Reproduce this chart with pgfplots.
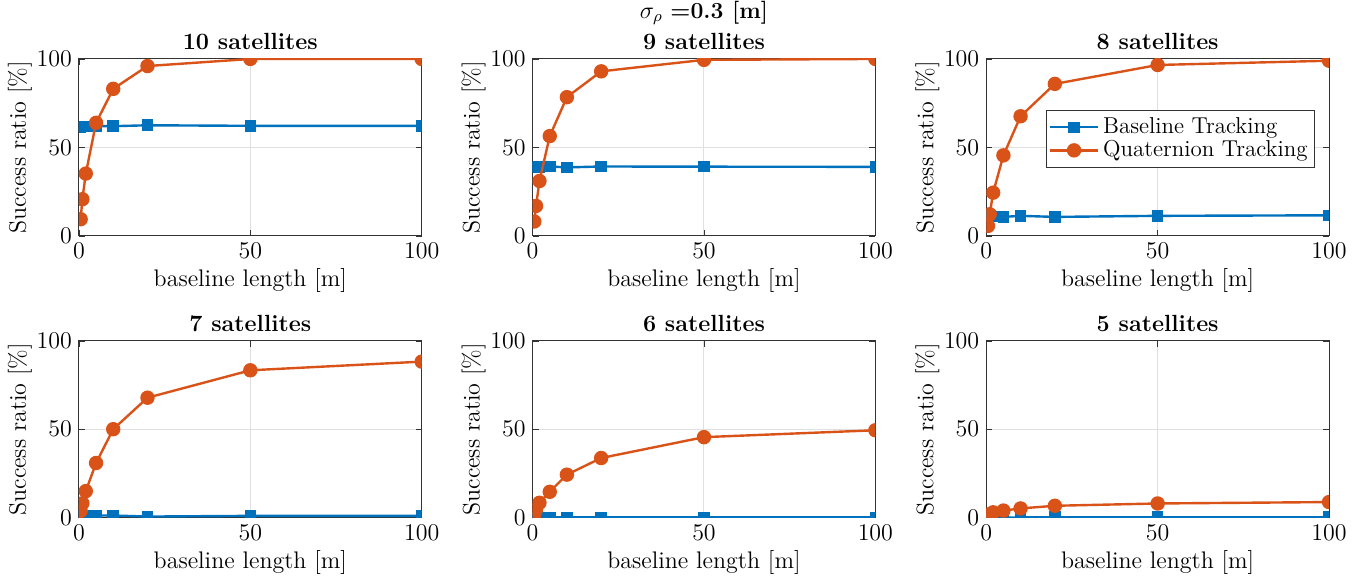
\documentclass[border=0pt]{standalone}
\usepackage{pgfplots}
\usepackage{pgfplotstable}
\pgfplotsset{compat=1.18}
\usepgfplotslibrary{groupplots}

\definecolor{mblue}{rgb}{0,0.447,0.741}
\definecolor{morange}{rgb}{0.85,0.325,0.098}

% x = baseline length [m], base = Baseline Tracking, quat = Quaternion Tracking [%]
\pgfplotstableread{
x    base  quat
0.5  61.5  9.4
1    61.8  20.7
2    61.9  35.2
5    62.0  63.9
10   62.0  83.1
20   62.5  96.0
50   62.2  100
100  62.2  100
}\tenSat
\pgfplotstableread{
x    base  quat
0.5  38.8  8.1
1    38.9  16.9
2    39.0  31.0
5    39.2  56.4
10   38.7  78.4
20   39.2  93.0
50   39.1  99.5
100  39.0  100
}\nineSat
\pgfplotstableread{
x    base  quat
0.5  11.5  5.6
1    11.3  12.2
2    11.0  24.4
5    10.7  45.5
10   11.3  67.6
20   10.7  85.9
50   11.3  96.6
100  11.6  99.0
}\eightSat
\pgfplotstableread{
x    base  quat
0.5  1.0   3.8
1    1.0   8.1
2    1.0   15.0
5    1.2   30.9
10   1.2   50.0
20   0.6   67.8
50   1.0   83.3
100  1.0   88.2
}\sevenSat
\pgfplotstableread{
x    base  quat
0.5  0.1   1.9
1    0.1   4.7
2    0.1   8.4
5    0.1   14.6
10   0.1   24.3
20   0.1   33.7
50   0.1   45.5
100  0.1   49.4
}\sixSat
\pgfplotstableread{
x    base  quat
0.5  0.1   1.2
1    0.1   2.0
2    0.1   3.0
5    0.1   4.0
10   0.1   5.2
20   0.2   6.7
50   0.2   8.0
100  0.2   8.8
}\fiveSat

\begin{document}
\begin{tikzpicture}[font=\fontsize{11.5}{13}\selectfont]
\begin{groupplot}[
    group style={group size=3 by 2, horizontal sep=55.5pt, vertical sep=52.5pt},
    scale only axis, width=171.5pt, height=88.5pt,
    xmin=0, xmax=100, ymin=0, ymax=100,
    xtick={0,50,100}, ytick={0,50,100},
    grid=major, grid style={black!12, line width=0.5pt},
    axis line style={black!80, line width=0.5pt},
    tick align=inside, major tick length=3pt, tick style={black!80},
    xlabel={baseline length [m]}, ylabel={Success ratio [\%]},
    label style={font=\fontsize{12}{14}\selectfont, inner sep=0pt},
    xlabel style={at={(axis description cs:0.5,-0.254)}, anchor=center},
    ylabel style={at={(axis description cs:-0.172,0.5)}, anchor=center},
    every axis title shift=0pt,
    title style={at={(axis description cs:0.5,1.1)}, anchor=center, yshift=0pt,
        inner sep=0pt, font=\fontsize{11.7}{13}\selectfont\bfseries},
    clip marker paths=true,
    base/.style={mblue, line width=1.2pt, mark=square*, mark size=2.3pt},
    quat/.style={morange, line width=1.2pt, mark=*, mark size=3pt},
    legend cell align=left,
    legend style={draw=black!80, fill=white, inner sep=1.5pt, row sep=-2pt,
        font=\fontsize{11.5}{13}\selectfont},
    legend image code/.code={\draw[mark repeat=2, mark phase=2]
        plot coordinates {(0cm,0cm) (0.42cm,0cm) (0.84cm,0cm)};},
]
\nextgroupplot[title={10 satellites}]
\addplot[base] table[x=x, y=base] {\tenSat};
\addplot[quat] table[x=x, y=quat] {\tenSat};

\nextgroupplot[title={9 satellites}]
\addplot[base] table[x=x, y=base] {\nineSat};
\addplot[quat] table[x=x, y=quat] {\nineSat};

\nextgroupplot[title={8 satellites},
    legend style={at={(axis description cs:0.959,0.709)}, anchor=north east}]
\addplot[base] table[x=x, y=base] {\eightSat};
\addlegendentry{Baseline Tracking}
\addplot[quat] table[x=x, y=quat] {\eightSat};
\addlegendentry{Quaternion Tracking}

\nextgroupplot[title={7 satellites}]
\addplot[base] table[x=x, y=base] {\sevenSat};
\addplot[quat] table[x=x, y=quat] {\sevenSat};

\nextgroupplot[title={6 satellites}]
\addplot[base] table[x=x, y=base] {\sixSat};
\addplot[quat] table[x=x, y=quat] {\sixSat};

\nextgroupplot[title={5 satellites}]
\addplot[base] table[x=x, y=base] {\fiveSat};
\addplot[quat] table[x=x, y=quat] {\fiveSat};
\end{groupplot}

\path (group c2r1.north) ++(0,23pt) node[inner sep=0pt] {$\sigma_\rho$ \textbf{=0.3 [m]}};
% page frame matching the reference margins
\path (group c1r1.north west) ++(-39.5pt,29.5pt) coordinate (tl);
\path (group c3r2.south east) ++(19.5pt,-33pt) coordinate (br);
\path (tl) rectangle (br);
\end{tikzpicture}
\end{document}
